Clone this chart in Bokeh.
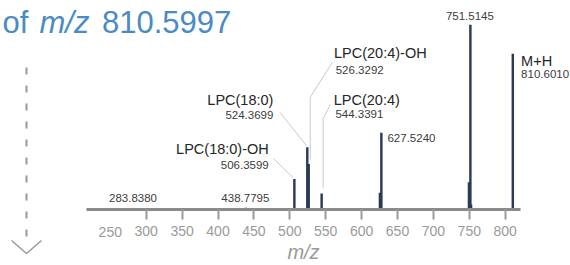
from bokeh.plotting import figure
from bokeh.models import Range1d, LinearAxis, FixedTicker
from bokeh.core.properties import value
from bokeh.embed import file_html
from bokeh.resources import INLINE

# ---------------- data ----------------
peak_mz = [283.8380, 438.7795, 506.3599, 524.3699, 526.3292, 544.3391,
           625.5, 627.5240, 749.5, 751.5145, 752.5, 810.6010]
peak_int = [0.8, 1.1, 16.6, 33.7, 24.7, 8.8,
            9.2, 41.6, 14.9, 100.0, 2.8, 84.3]

label_mz = [283.8380, 438.7795, 506.3599, 524.3699, 526.3292, 544.3391,
            627.5240, 751.5145, 810.6010]
label_name = ["", "", "LPC(18:0)-OH", "LPC(18:0)", "LPC(20:4)-OH", "LPC(20:4)",
              "", "", "M+H"]

tick_values = [250, 300, 350, 400, 450, 500, 550, 600, 650, 700, 750, 800]
title_parts = ["of ", "m/z", " 810.5997"]
axis_title = "m/z"

# ---------------- geometry ----------------
W, H = 570, 265
AXIS_Y = 209.2          # pixel row of the baseline
PX_PER_MZ = 0.718
PX_PER_INT = 1.85
x_start = 300 - 145.7 / PX_PER_MZ
x_end = x_start + W / PX_PER_MZ
y_start = (AXIS_Y - H) / PX_PER_INT
y_end = AXIS_Y / PX_PER_INT


def data_x(px):
    return x_start + px / PX_PER_MZ


def data_y(py):
    return (AXIS_Y - py) / PX_PER_INT


FONT = "Liberation Sans"
BAR = "#2b3a56"
GREY = "#9a9a9a"
NAME_SIZE, NUM_SIZE, TITLE_SIZE = 14.5, 11.5, 31
CAP = 0.716  # cap height / font size; texts are placed by their vertical middle

p = figure(width=W, height=H, output_backend="svg", toolbar_location=None,
           x_range=Range1d(x_start, x_end), y_range=Range1d(y_start, y_end),
           x_axis_location=None, y_axis_location=None,
           min_border=0)
p.outline_line_color = None
p.background_fill_color = "white"
p.border_fill_color = "white"
p.xgrid.visible = False
p.ygrid.visible = False

# ---------------- axis (drawn at intensity 0) ----------------
ax = LinearAxis(ticker=FixedTicker(ticks=tick_values[1:]), bounds=(217, 821),
                fixed_location=0)
ax.axis_line_color = "#8a8a8a"
ax.axis_line_width = 3
ax.major_tick_line_color = GREY
ax.major_tick_line_width = 2
ax.major_tick_out = 10
ax.major_tick_in = 0
ax.minor_tick_line_color = None
ax.major_label_text_font = FONT
ax.major_label_text_font_size = "14px"
ax.major_label_text_color = GREY
ax.major_label_standoff = 6
ax.axis_label = axis_title
ax.axis_label_text_font = FONT
ax.axis_label_text_font_size = "20px"
ax.axis_label_text_font_style = "italic"
ax.axis_label_text_color = GREY
ax.axis_label_standoff = 2
p.add_layout(ax, "below")

# first tick label (it has no tick mark in the original)
p.text(x=[tick_values[0]], y=[data_y(231.2)], text=[str(tick_values[0])],
       text_align="center", text_baseline="alphabetic",
       text_font=value(FONT), text_font_size=value("14px"), text_color=GREY)

# ---------------- peaks ----------------
p.vbar(x=peak_mz, top=peak_int, bottom=0, width=3.4, fill_color=BAR, line_color=None)

# ---------------- peak labels ----------------
# (align, name_dx, name_baseline_dy, num_dx, num_baseline_dy, leader), px from peak top
layout = [
    ("center", None, None, -1.6, -6.0, None),
    ("center", None, None, -0.5, -5.5, None),
    ("right", -25.6, -24.5, -25.6, -10.0, [(-20.9, -20.5), (-1.4, -1.5)]),
    ("right", -33.9, -41.9, -33.9, -28.4, [(-27.3, -34.9), (-0.6, -1.4)]),
    ("left", 25.3, -106.2, 27.0, -90.0, [(23.5, -101.5), (1.5, -66.5), (1.5, -4.5)]),
    ("left", 12.1, -88.6, 13.8, -75.4, [(8.8, -88.9), (1.5, -74.9), (1.5, -4.9)]),
    ("left", None, None, 6.1, 9.5, None),
    ("center", None, None, -0.5, -4.2, None),
    ("left", 8.3, 12.5, 8.3, 24.1, None),
]

name_shift = CAP * NAME_SIZE / 2
num_shift = CAP * NUM_SIZE / 2

names = {"left": ([], [], []), "right": ([], [], []), "center": ([], [], [])}
nums = {"left": ([], [], []), "right": ([], [], []), "center": ([], [], [])}
lead_xs, lead_ys = [], []
for mz, name, lay in zip(label_mz, label_name, layout):
    inten = peak_int[peak_mz.index(mz)]
    align, ndx, ndy, mdx, mdy, leader = lay
    if name:
        names[align][0].append(mz + ndx / PX_PER_MZ)
        names[align][1].append(inten - (ndy - name_shift) / PX_PER_INT)
        names[align][2].append(name)
    nums[align][0].append(mz + mdx / PX_PER_MZ)
    nums[align][1].append(inten - (mdy - num_shift) / PX_PER_INT)
    nums[align][2].append(f"{mz:.4f}")
    if leader:
        lead_xs.append([mz + a / PX_PER_MZ for a, b in leader])
        lead_ys.append([inten - b / PX_PER_INT for a, b in leader])

p.multi_line(xs=lead_xs, ys=lead_ys, line_color="#c9c9c9", line_width=1)

for align in ("left", "right", "center"):
    xs, ys, ts = names[align]
    if ts:
        p.text(x=xs, y=ys, text=ts, text_align=align, text_baseline="alphabetic",
               text_font=value(FONT), text_font_size=value(f"{NAME_SIZE}px"),
               text_color="#262626")
    xs, ys, ts = nums[align]
    if ts:
        p.text(x=xs, y=ys, text=ts, text_align=align, text_baseline="alphabetic",
               text_font=value(FONT), text_font_size=value(f"{NUM_SIZE}px"),
               text_color="#3c3c3c")

# ---------------- title ----------------
TITLE_C = "#4a8bc4"
title_x = [2, 39, 101.5]
title_mid = 33 - CAP * TITLE_SIZE / 2
for part, px in zip(title_parts, title_x):
    p.text(x=[data_x(px)], y=[data_y(title_mid)], text=[part],
           text_align="left", text_baseline="alphabetic",
           text_font=value(FONT), text_font_size=value(f"{TITLE_SIZE}px"),
           text_font_style="italic" if part == "m/z" else "normal",
           text_color=TITLE_C)

# ---------------- scroll arrow ----------------
p.segment(x0=[data_x(26)], y0=[data_y(67)], x1=[data_x(26)], y1=[data_y(238)],
          line_color=GREY, line_width=2, line_dash="7 11")
p.line(x=[data_x(11), data_x(26), data_x(41)],
       y=[data_y(240), data_y(253), data_y(240)],
       line_color=GREY, line_width=1.5)

open("out.html", "w").write(file_html(p, INLINE))
